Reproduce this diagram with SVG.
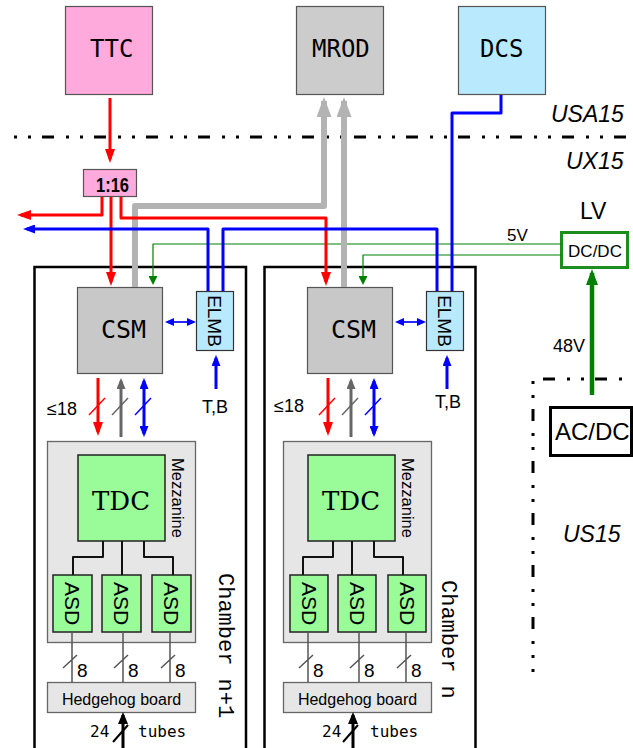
<svg xmlns="http://www.w3.org/2000/svg" width="633" height="748" viewBox="0 0 633 748">
<style>
.sans{font-family:"Liberation Sans",Arial,sans-serif}
.mono{font-family:"DejaVu Sans Mono",monospace}
.cmono{font-family:"Liberation Mono","Courier New",monospace}
.serif{font-family:"DejaVu Serif",serif}
.it{font-style:italic;font-size:23px}
.box{stroke:#555;stroke-width:1.2}
.pink{fill:#ffaadc}
.gray{fill:#cccccc}
.lblue{fill:#b8e9fc}
.green{fill:#99fc99;stroke:#222;stroke-width:1.5}
.lgray{fill:#e6e6e6;stroke:#666;stroke-width:1.3}
.sep{fill:none;stroke:#000;stroke-width:3}
.c{fill:none;stroke-linejoin:round}
.red{stroke:#ff0000;stroke-width:3}
.blu{stroke:#0000ff;stroke-width:3}
.grn{stroke:#008000;stroke-width:1.2}
.mrod{stroke:#b3b3b3;stroke-width:6}
.dk{stroke:#666;stroke-width:3}
.tree{stroke:#111;stroke-width:2}
.sig{stroke:#555;stroke-width:1.5}
</style>
<defs>
<marker id="mR" viewBox="0 0 14 10" refX="10" refY="5" markerWidth="14" markerHeight="10" markerUnits="userSpaceOnUse" orient="auto-start-reverse"><path d="M0,0L14,5L0,10z" fill="#ff0000"/></marker>
<marker id="mB" viewBox="0 0 12 9" refX="8" refY="4.5" markerWidth="12" markerHeight="9" markerUnits="userSpaceOnUse" orient="auto-start-reverse"><path d="M0,0L12,4.5L0,9z" fill="#0000ff"/></marker>
<marker id="mBm" viewBox="0 0 11 9" refX="8" refY="4.5" markerWidth="11" markerHeight="9" markerUnits="userSpaceOnUse" orient="auto-start-reverse"><path d="M0,0L11,4.5L0,9z" fill="#0000ff"/></marker>
<marker id="mBs" viewBox="0 0 9 8" refX="7" refY="4" markerWidth="9" markerHeight="8" markerUnits="userSpaceOnUse" orient="auto-start-reverse"><path d="M0,0L9,4L0,8z" fill="#0000ff"/></marker>
<marker id="mG" viewBox="0 0 9 9" refX="7" refY="4.5" markerWidth="9" markerHeight="9" markerUnits="userSpaceOnUse" orient="auto-start-reverse"><path d="M0,0L9,4.5L0,9z" fill="#008000"/></marker>
<marker id="mGB" viewBox="0 0 16 12" refX="12" refY="6" markerWidth="16" markerHeight="12" markerUnits="userSpaceOnUse" orient="auto-start-reverse"><path d="M0,0L16,6L0,12z" fill="#008000"/></marker>
<marker id="mK" viewBox="0 0 11 9" refX="8" refY="4.5" markerWidth="11" markerHeight="9" markerUnits="userSpaceOnUse" orient="auto-start-reverse"><path d="M0,0L11,4.5L0,9z" fill="#666"/></marker>
<marker id="mKB" viewBox="0 0 12 10" refX="9" refY="5" markerWidth="12" markerHeight="10" markerUnits="userSpaceOnUse" orient="auto-start-reverse"><path d="M0,0L12,5L0,10z" fill="#000"/></marker>
<marker id="mM" viewBox="0 0 20 15" refX="16" refY="7.5" markerWidth="20" markerHeight="15" markerUnits="userSpaceOnUse" orient="auto-start-reverse"><path d="M0,0L20,7.5L0,15z" fill="#b3b3b3"/></marker>
</defs>
<rect width="633" height="748" fill="#fff"/>

<g id="separators">
<path class="sep" d="M14,137H633" stroke-dasharray="3 11 3 11 12 12"/>
<path class="sep" d="M543,379H633" stroke-dasharray="12 12 3 11 3 11"/>
<path class="sep" d="M533,381V672" stroke-dasharray="3 11 3 11 12 12"/>
<text class="sans it" x="551" y="122">USA15</text>
<text class="sans it" x="566" y="169">UX15</text>
<text class="sans it" x="563" y="542">US15</text>
</g>

<g id="chamber1">
<rect x="34.5" y="267" width="211.5" height="500" fill="none" stroke="#000" stroke-width="2.5"/>
<text class="cmono" font-size="22" transform="translate(227,573) rotate(90)" dy="0.35em">Chamber n+1</text>
</g>
<g id="chamber2">
<rect x="264.5" y="267" width="211" height="500" fill="none" stroke="#000" stroke-width="2.5"/>
<text class="cmono" font-size="22" transform="translate(450,580) rotate(90)" dy="0.35em">Chamber n</text>
</g>

<g id="TTC"><rect class="box pink" x="65.5" y="6.5" width="87" height="88"/><text class="mono" font-size="24" x="90" y="57">TTC</text></g>
<g id="MROD"><rect class="box gray" x="296.5" y="6.5" width="87" height="88"/><text class="mono" font-size="24" x="312" y="57">MROD</text></g>
<g id="DCS"><rect class="box lblue" x="458.5" y="6.5" width="87" height="88"/><text class="mono" font-size="24" x="480" y="57">DCS</text></g>

<g id="fanout"><rect class="box pink" x="83.5" y="169.5" width="53" height="27"/><text class="sans" font-weight="bold" font-size="20" x="96" y="192" textLength="33" lengthAdjust="spacingAndGlyphs">1:16</text></g>

<g id="LV">
<text class="sans" font-size="23" x="580" y="219">LV</text>
<rect x="561.5" y="232.5" width="66" height="35" fill="#fff" stroke="#1e8c1e" stroke-width="3"/>
<text class="sans" font-size="17" x="595" y="257" text-anchor="middle">DC/DC</text>
</g>
<g id="ACDC"><rect x="550.5" y="407.5" width="81" height="48" fill="#fff" stroke="#000" stroke-width="3"/><text class="sans" font-size="24" x="555" y="440">AC/DC</text></g>

<g id="CSM1"><rect class="box" fill="#c8c8c8" x="77.5" y="287.5" width="85" height="86"/><text class="mono" font-size="25" x="101" y="338">CSM</text></g>
<g id="ELMB1"><rect x="196.5" y="291.5" width="37" height="59" class="lblue" stroke="#333" stroke-width="1.2"/><text class="sans" font-size="19" text-anchor="middle" transform="translate(215,321) rotate(90)" dy="0.35em">ELMB</text></g>
<g id="Mezz1"><rect class="lgray" x="47.5" y="441.5" width="148" height="201"/><text class="sans" font-size="16.5" text-anchor="middle" transform="translate(178,498) rotate(90)" dy="0.35em">Mezzanine</text></g>
<g id="TDC1"><rect class="green" x="78" y="455" width="87" height="86"/><text class="serif" font-size="26" x="121" y="510" text-anchor="middle">TDC</text></g>
<g id="ASD1a"><rect class="green" x="53" y="575" width="39" height="57"/><text class="sans" font-size="21" text-anchor="middle" transform="translate(72.5,603.5) rotate(90)" dy="0.35em">ASD</text></g>
<g id="ASD1b"><rect class="green" x="102" y="575" width="39" height="57"/><text class="sans" font-size="21" text-anchor="middle" transform="translate(121.5,603.5) rotate(90)" dy="0.35em">ASD</text></g>
<g id="ASD1c"><rect class="green" x="152" y="575" width="39" height="57"/><text class="sans" font-size="21" text-anchor="middle" transform="translate(171.5,603.5) rotate(90)" dy="0.35em">ASD</text></g>
<g id="HH1"><rect class="lgray" x="47.5" y="682.5" width="148" height="30"/><text class="sans" font-size="16" x="121.5" y="705" text-anchor="middle">Hedgehog board</text></g>

<g id="CSM2"><rect class="box" fill="#c8c8c8" x="307.5" y="287.5" width="85" height="86"/><text class="mono" font-size="25" x="331" y="338">CSM</text></g>
<g id="ELMB2"><rect x="426.5" y="291.5" width="37" height="59" class="lblue" stroke="#333" stroke-width="1.2"/><text class="sans" font-size="19" text-anchor="middle" transform="translate(445,321) rotate(90)" dy="0.35em">ELMB</text></g>
<g id="Mezz2"><rect class="lgray" x="283.5" y="441.5" width="148" height="201"/><text class="sans" font-size="16.5" text-anchor="middle" transform="translate(408,498) rotate(90)" dy="0.35em">Mezzanine</text></g>
<g id="TDC2"><rect class="green" x="308" y="455" width="87" height="86"/><text class="serif" font-size="26" x="351" y="510" text-anchor="middle">TDC</text></g>
<g id="ASD2a"><rect class="green" x="290" y="575" width="38" height="57"/><text class="sans" font-size="21" text-anchor="middle" transform="translate(309,603.5) rotate(90)" dy="0.35em">ASD</text></g>
<g id="ASD2b"><rect class="green" x="338" y="575" width="38" height="57"/><text class="sans" font-size="21" text-anchor="middle" transform="translate(357,603.5) rotate(90)" dy="0.35em">ASD</text></g>
<g id="ASD2c"><rect class="green" x="388" y="575" width="38" height="57"/><text class="sans" font-size="21" text-anchor="middle" transform="translate(407,603.5) rotate(90)" dy="0.35em">ASD</text></g>
<g id="HH2"><rect class="lgray" x="283.5" y="682.5" width="148" height="30"/><text class="sans" font-size="16" x="357.5" y="705" text-anchor="middle">Hedgehog board</text></g>

<g id="connectors">
<path class="c grn" d="M561,244H153V283" marker-end="url(#mG)"/>
<path class="c grn" d="M561,255H363V283" marker-end="url(#mG)"/>
<path class="c" stroke="#008000" stroke-width="4.5" d="M592,395V273" marker-end="url(#mGB)"/>
<text class="sans" font-size="17" x="507" y="241">5V</text>
<text class="sans" font-size="18" x="553" y="352">48V</text>
<path class="c mrod" d="M135,287V206H324V101" marker-end="url(#mM)"/>
<path class="c mrod" d="M344,287V101" marker-end="url(#mM)"/>
<path class="c red" d="M110,98V159" marker-end="url(#mR)"/>
<path class="c red" d="M102,197V215H21" marker-end="url(#mR)"/>
<path class="c red" d="M111,197V282" marker-end="url(#mR)"/>
<path class="c red" d="M121,197V218H326V282" marker-end="url(#mR)"/>
<path class="c blu" d="M208,291V229H27" marker-end="url(#mB)"/>
<path class="c blu" d="M223,291V229H437V291"/>
<path class="c blu" d="M501,95V113H452V291"/>
<path class="c" stroke="#0000ff" stroke-width="1.7" d="M167,322H194" marker-start="url(#mBs)" marker-end="url(#mBs)"/>
<path class="c" stroke="#0000ff" stroke-width="1.7" d="M397,322H424" marker-start="url(#mBs)" marker-end="url(#mBs)"/>
<path class="c blu" d="M216,389V358" marker-end="url(#mBm)"/>
<path class="c blu" d="M447,389V358" marker-end="url(#mBm)"/>
<text class="sans" font-size="18" x="202" y="413">T,B</text>
<text class="sans" font-size="18" x="435" y="408">T,B</text>
<!-- chamber 1 CSM-mezzanine buses -->
<path class="c red" d="M98,378V432" marker-end="url(#mR)"/>
<path class="c dk" d="M121,437V381" marker-end="url(#mK)"/>
<path class="c blu" d="M144,381V434" marker-start="url(#mBm)" marker-end="url(#mBm)"/>
<path class="c" stroke="#ff0000" stroke-width="1.5" d="M89,415L105,398"/>
<path class="c" stroke="#666" stroke-width="1.5" d="M112,415L128,398"/>
<path class="c" stroke="#0000ff" stroke-width="1.5" d="M135,415L151,398"/>
<text class="sans" font-size="18" x="47" y="415">≤18</text>
<!-- chamber 2 -->
<path class="c red" d="M328,378V432" marker-end="url(#mR)"/>
<path class="c dk" d="M351,437V381" marker-end="url(#mK)"/>
<path class="c blu" d="M374,381V434" marker-start="url(#mBm)" marker-end="url(#mBm)"/>
<path class="c" stroke="#ff0000" stroke-width="1.5" d="M319,415L335,398"/>
<path class="c" stroke="#666" stroke-width="1.5" d="M342,415L358,398"/>
<path class="c" stroke="#0000ff" stroke-width="1.5" d="M365,415L381,398"/>
<text class="sans" font-size="18" x="274" y="412">≤18</text>
<!-- TDC to ASD trees -->
<path class="c tree" d="M103,541V557H73V575M122,541V575M144,541V557H173V575"/>
<path class="c tree" d="M333,541V557H303V575M352,541V575M374,541V557H403V575"/>
<!-- ASD to hedgehog -->
<path class="c sig" d="M72,632V682M123,632V682M170,632V682M63,668L77,655M114,668L128,655M161,668L175,655"/>
<path class="c sig" d="M308,632V682M359,632V682M406,632V682M299,668L313,655M350,668L364,655M397,668L411,655"/>
<g class="sans" font-size="19">
<text x="77" y="677">8</text><text x="128" y="677">8</text><text x="175" y="677">8</text>
<text x="313" y="677">8</text><text x="364" y="677">8</text><text x="411" y="677">8</text>
</g>
<!-- tubes -->
<path class="c" stroke="#000" stroke-width="3" d="M123,748V715" marker-end="url(#mKB)"/>
<path class="c" stroke="#000" stroke-width="2" d="M113,742L128,725"/>
<path class="c" stroke="#000" stroke-width="3" d="M353,748V715" marker-end="url(#mKB)"/>
<path class="c" stroke="#000" stroke-width="2" d="M343,742L358,725"/>
<g class="mono" font-size="16">
<text x="90" y="737">24</text><text x="138" y="737">tubes</text>
<text x="322" y="737">24</text><text x="370" y="737">tubes</text>
</g>
</g>
</svg>
